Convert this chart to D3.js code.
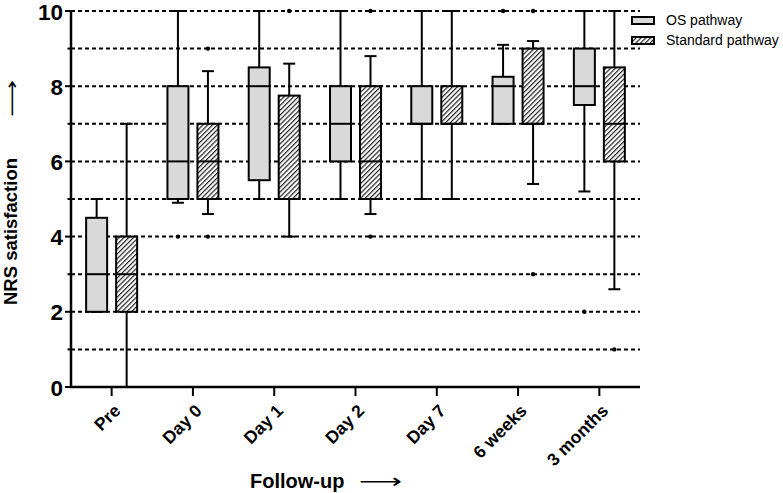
<!DOCTYPE html>
<html><head><meta charset="utf-8">
<script src="https://cdn.jsdelivr.net/npm/d3@7"></script>
<style>body{margin:0;background:#fff;} svg{display:block;}</style>
</head><body>
<script>
const categories = ["Pre","Day 0","Day 1","Day 2","Day 7","6 weeks","3 months"];
const osMin = [2,4.9,5,5,5,7,5.2];
const osQ1  = [2,5,5.5,6,7,7,7.5];
const osMed = [3,6,8,7,7,8,8];
const osQ3  = [4.5,8,8.5,8,8,8.25,9];
const osMax = [5,10,10,10,10,9.1,10];
const osOut = [[],[4],[],[],[],[10],[2]];
const stdMin = [0,4.6,4,4.6,5,5.4,2.6];
const stdQ1  = [2,5,5,5,7,7,6];
const stdMed = [3,6,5,6,7,7,7];
const stdQ3  = [4,7,7.75,8,8,9,8.5];
const stdMax = [7,8.4,8.6,8.8,10,9.2,10];
const stdOut = [[],[9,4],[10],[10,4],[],[10,3],[1]];
const yMajor = [0,2,4,6,8,10];
const yMinor = [1,3,5,7,9];
const gridVals = [1,2,3,4,5,6,7,8,9,10];
const seriesNames = ["OS pathway","Standard pathway"];

const W=783,H=493;
const svg=d3.select("body").append("svg").attr("width",W).attr("height",H);
const defs=svg.append("defs");
const pat=defs.append("pattern").attr("id","hatch").attr("patternUnits","userSpaceOnUse")
  .attr("width",3.4).attr("height",3.4).attr("patternTransform","rotate(45)");
pat.append("rect").attr("width",3.4).attr("height",3.4).attr("fill","#fff");
pat.append("line").attr("x1",0.6).attr("y1",0).attr("x2",0.6).attr("y2",3.4).attr("stroke","#222").attr("stroke-width",1.2);

const x=d3.scaleBand().domain(categories).range([71,640]);
const y=d3.scaleLinear().domain([0,10]).range([387,11]);
const off=15, bw=21, cap=12;
const font="'Liberation Sans', Arial, sans-serif";

// gridlines
svg.append("g").selectAll("line").data(gridVals).join("line")
  .attr("x1",71).attr("x2",640).attr("y1",d=>y(d)).attr("y2",d=>y(d))
  .attr("stroke","#000").attr("stroke-width",2).attr("stroke-dasharray","4,3");

const series=[
  {name:seriesNames[0],min:osMin,q1:osQ1,med:osMed,q3:osQ3,max:osMax,out:osOut,fill:"#d9d9d9",dx:-off},
  {name:seriesNames[1],min:stdMin,q1:stdQ1,med:stdMed,q3:stdQ3,max:stdMax,out:stdOut,fill:"url(#hatch)",dx:off}
];
series.forEach(s=>{
  const g=svg.append("g");
  categories.forEach((c,i)=>{
    const cx=x(c)+x.bandwidth()/2+s.dx;
    const mn=s.min[i],q1=s.q1[i],md=s.med[i],q3=s.q3[i],mx=s.max[i];
    const ln=(x1,y1,x2,y2)=>g.append("line").attr("x1",x1).attr("y1",y1).attr("x2",x2).attr("y2",y2).attr("stroke","#000").attr("stroke-width",2);
    ln(cx,y(mx),cx,y(q3));
    ln(cx,y(q1),cx,y(mn));
    ln(cx-cap/2,y(mx),cx+cap/2,y(mx));
    ln(cx-cap/2,y(mn),cx+cap/2,y(mn));
    g.append("rect").attr("x",cx-bw/2).attr("width",bw).attr("y",y(q3)).attr("height",y(q1)-y(q3))
      .attr("fill",s.fill).attr("stroke","#000").attr("stroke-width",2);
    ln(cx-bw/2,y(md),cx+bw/2,y(md));
    s.out[i].forEach(v=>g.append("circle").attr("cx",cx).attr("cy",y(v)).attr("r",2.2).attr("fill","#000"));
  });
});

// y axis
const ya=svg.append("g");
ya.append("line").attr("x1",71).attr("x2",71).attr("y1",y(10)-1).attr("y2",y(0)+1).attr("stroke","#000").attr("stroke-width",2.5);
ya.selectAll(".maj").data(yMajor).join("line").attr("x1",65).attr("x2",71).attr("y1",d=>y(d)).attr("y2",d=>y(d)).attr("stroke","#000").attr("stroke-width",2);
ya.selectAll(".min").data(yMinor).join("line").attr("x1",67.5).attr("x2",71).attr("y1",d=>y(d)).attr("y2",d=>y(d)).attr("stroke","#000").attr("stroke-width",2);
ya.selectAll("text").data(yMajor).join("text").attr("x",63).attr("y",d=>y(d)+0.5).attr("dy","0.36em")
  .attr("text-anchor","end").attr("font-family",font).attr("font-weight","bold").attr("font-size",22.5).text(d=>d);

// x axis
const xa=svg.append("g");
xa.append("line").attr("x1",69.8).attr("x2",640).attr("y1",387).attr("y2",387).attr("stroke","#000").attr("stroke-width",2.5);
xa.selectAll(".tk").data(categories).join("line").attr("x1",d=>x(d)+x.bandwidth()/2).attr("x2",d=>x(d)+x.bandwidth()/2)
  .attr("y1",387).attr("y2",396).attr("stroke","#000").attr("stroke-width",2);
xa.selectAll("text").data(categories).join("text")
  .attr("transform",d=>`translate(${x(d)+x.bandwidth()/2+1},${403}) rotate(-45)`)
  .attr("text-anchor","end").attr("dy","0.72em").attr("font-family",font).attr("font-weight","bold").attr("font-size",17.5).text(d=>d);

// axis titles
svg.append("text").attr("transform","translate(17,305) rotate(-90)").attr("text-anchor","start")
  .attr("font-family",font).attr("font-weight","bold").attr("font-size",18.5).text("NRS satisfaction");
svg.append("text").attr("transform","translate(18,117) rotate(-90)").attr("text-anchor","start")
  .attr("font-family","'DejaVu Sans'").attr("font-size",18).attr("textLength",37).attr("lengthAdjust","spacingAndGlyphs").text("⟶");
svg.append("text").attr("x",250).attr("y",488).attr("font-family",font).attr("font-weight","bold").attr("font-size",20).text("Follow-up");
svg.append("text").attr("x",359).attr("y",488).attr("font-family","'DejaVu Sans'").attr("font-size",20).attr("textLength",43).attr("lengthAdjust","spacingAndGlyphs").text("⟶");

// legend
const lg=svg.append("g");
series.forEach((s,i)=>{
  lg.append("rect").attr("x",632).attr("y",17+i*20).attr("width",22).attr("height",7).attr("fill",s.fill).attr("stroke","#000").attr("stroke-width",2);
  lg.append("text").attr("x",666).attr("y",25+i*20).attr("font-family",font).attr("font-size",14).text(s.name);
});
</script>
</body></html>
